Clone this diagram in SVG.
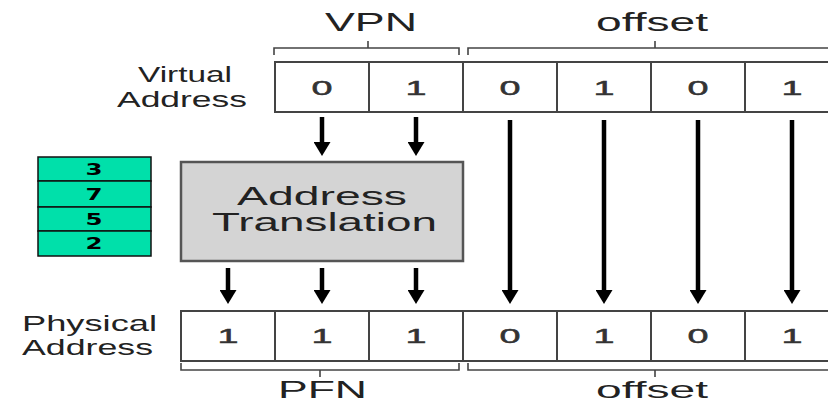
<svg xmlns="http://www.w3.org/2000/svg" width="828" height="403" viewBox="0 0 828 403">
<defs>
<style>
.t{font-family:"Liberation Sans",Arial,sans-serif;fill:#222;}
.lbl{font-size:22px;}
.cap{font-size:26px;}
.capb{font-size:24px;}
.dig{font-size:21px;text-anchor:middle;fill:#333;stroke:#333;stroke-width:0.5;}
.tbl{font-family:"DejaVu Sans",Verdana,sans-serif;font-weight:bold;font-size:15px;text-anchor:middle;fill:#000;}
.cell{fill:#fff;stroke:#444;stroke-width:2;}
.br{fill:none;stroke:#444;stroke-width:1.6;}
.arr{stroke:#000;stroke-width:4.5;marker-end:url(#ah);}
</style>
<marker id="ah" viewBox="0 0 14 17" markerWidth="14" markerHeight="17" markerUnits="userSpaceOnUse" refX="4" refY="8.5" orient="auto">
<path d="M0,0 L14,8.5 L0,17 z" fill="#000"/>
</marker>
</defs>
<rect width="828" height="403" fill="#fff"/>

<g id="vpn-label">
<text class="t cap" x="325" y="31" textLength="92" lengthAdjust="spacingAndGlyphs">VPN</text>
<path class="br" d="M274,55 V48 H459 V55 M368,48 V41"/>
</g>
<g id="offset-top-label">
<text class="t cap" x="596" y="31" textLength="112" lengthAdjust="spacingAndGlyphs">offset</text>
<path class="br" d="M468,55 V48 H842 M655,48 V41"/>
</g>

<g id="virtual-address">
<text class="t lbl" x="138" y="82" textLength="94" lengthAdjust="spacingAndGlyphs">Virtual</text>
<text class="t lbl" x="117" y="107" textLength="130" lengthAdjust="spacingAndGlyphs">Address</text>
<rect class="cell" x="275" y="62" width="94" height="50"/>
<rect class="cell" x="369" y="62" width="94" height="50"/>
<rect class="cell" x="463" y="62" width="94" height="50"/>
<rect class="cell" x="557" y="62" width="94" height="50"/>
<rect class="cell" x="651" y="62" width="94" height="50"/>
<rect class="cell" x="745" y="62" width="94" height="50"/>
<text class="t dig" x="322" y="95" textLength="21" lengthAdjust="spacingAndGlyphs">0</text>
<text class="t dig" x="416" y="95" textLength="21" lengthAdjust="spacingAndGlyphs">1</text>
<text class="t dig" x="510" y="95" textLength="21" lengthAdjust="spacingAndGlyphs">0</text>
<text class="t dig" x="604" y="95" textLength="21" lengthAdjust="spacingAndGlyphs">1</text>
<text class="t dig" x="698" y="95" textLength="21" lengthAdjust="spacingAndGlyphs">0</text>
<text class="t dig" x="792" y="95" textLength="21" lengthAdjust="spacingAndGlyphs">1</text>
</g>

<g id="page-table">
<rect x="38" y="157" width="113" height="24" fill="#00e0aa" stroke="#111" stroke-width="1.5"/>
<rect x="38" y="181" width="113" height="26" fill="#00e0aa" stroke="#111" stroke-width="1.5"/>
<rect x="38" y="207" width="113" height="24" fill="#00e0aa" stroke="#111" stroke-width="1.5"/>
<rect x="38" y="231" width="113" height="25" fill="#00e0aa" stroke="#111" stroke-width="1.5"/>
<text class="tbl" x="94" y="175" textLength="17" lengthAdjust="spacingAndGlyphs">3</text>
<text class="tbl" x="94" y="200" textLength="17" lengthAdjust="spacingAndGlyphs">7</text>
<text class="tbl" x="94" y="225" textLength="17" lengthAdjust="spacingAndGlyphs">5</text>
<text class="tbl" x="94" y="249" textLength="17" lengthAdjust="spacingAndGlyphs">2</text>
</g>

<g id="address-translation">
<rect x="181" y="162" width="282" height="99" fill="#d4d4d4" stroke="#555" stroke-width="2.5"/>
<text class="t" style="font-size:25px" x="237" y="205" textLength="170" lengthAdjust="spacingAndGlyphs">Address</text>
<text class="t" style="font-size:25px" x="212" y="231" textLength="225" lengthAdjust="spacingAndGlyphs">Translation</text>
</g>

<g id="physical-address">
<text class="t lbl" x="22" y="331" textLength="135" lengthAdjust="spacingAndGlyphs">Physical</text>
<text class="t lbl" x="22" y="355" textLength="131" lengthAdjust="spacingAndGlyphs">Address</text>
<rect class="cell" x="181" y="311" width="94" height="50"/>
<rect class="cell" x="275" y="311" width="94" height="50"/>
<rect class="cell" x="369" y="311" width="94" height="50"/>
<rect class="cell" x="463" y="311" width="94" height="50"/>
<rect class="cell" x="557" y="311" width="94" height="50"/>
<rect class="cell" x="651" y="311" width="94" height="50"/>
<rect class="cell" x="745" y="311" width="94" height="50"/>
<text class="t dig" x="228" y="343" textLength="21" lengthAdjust="spacingAndGlyphs">1</text>
<text class="t dig" x="322" y="343" textLength="21" lengthAdjust="spacingAndGlyphs">1</text>
<text class="t dig" x="416" y="343" textLength="21" lengthAdjust="spacingAndGlyphs">1</text>
<text class="t dig" x="510" y="343" textLength="21" lengthAdjust="spacingAndGlyphs">0</text>
<text class="t dig" x="604" y="343" textLength="21" lengthAdjust="spacingAndGlyphs">1</text>
<text class="t dig" x="698" y="343" textLength="21" lengthAdjust="spacingAndGlyphs">0</text>
<text class="t dig" x="792" y="343" textLength="21" lengthAdjust="spacingAndGlyphs">1</text>
</g>

<g id="pfn-label">
<path class="br" d="M181,363 V370 H459 V363 M320,370 V377"/>
<text class="t capb" x="278" y="398" textLength="89" lengthAdjust="spacingAndGlyphs">PFN</text>
</g>
<g id="offset-bottom-label">
<path class="br" d="M468,363 V370 H842 M655,370 V377"/>
<text class="t capb" x="596" y="398" textLength="112" lengthAdjust="spacingAndGlyphs">offset</text>
</g>

<g id="connectors">
<line class="arr" x1="322" y1="117" x2="322" y2="146"/>
<line class="arr" x1="416" y1="117" x2="416" y2="146"/>
<line class="arr" x1="228" y1="268" x2="228" y2="294"/>
<line class="arr" x1="322" y1="268" x2="322" y2="294"/>
<line class="arr" x1="416" y1="268" x2="416" y2="294"/>
<line class="arr" x1="510" y1="120" x2="510" y2="294"/>
<line class="arr" x1="604" y1="120" x2="604" y2="294"/>
<line class="arr" x1="698" y1="120" x2="698" y2="294"/>
<line class="arr" x1="792" y1="120" x2="792" y2="294"/>
</g>
</svg>
